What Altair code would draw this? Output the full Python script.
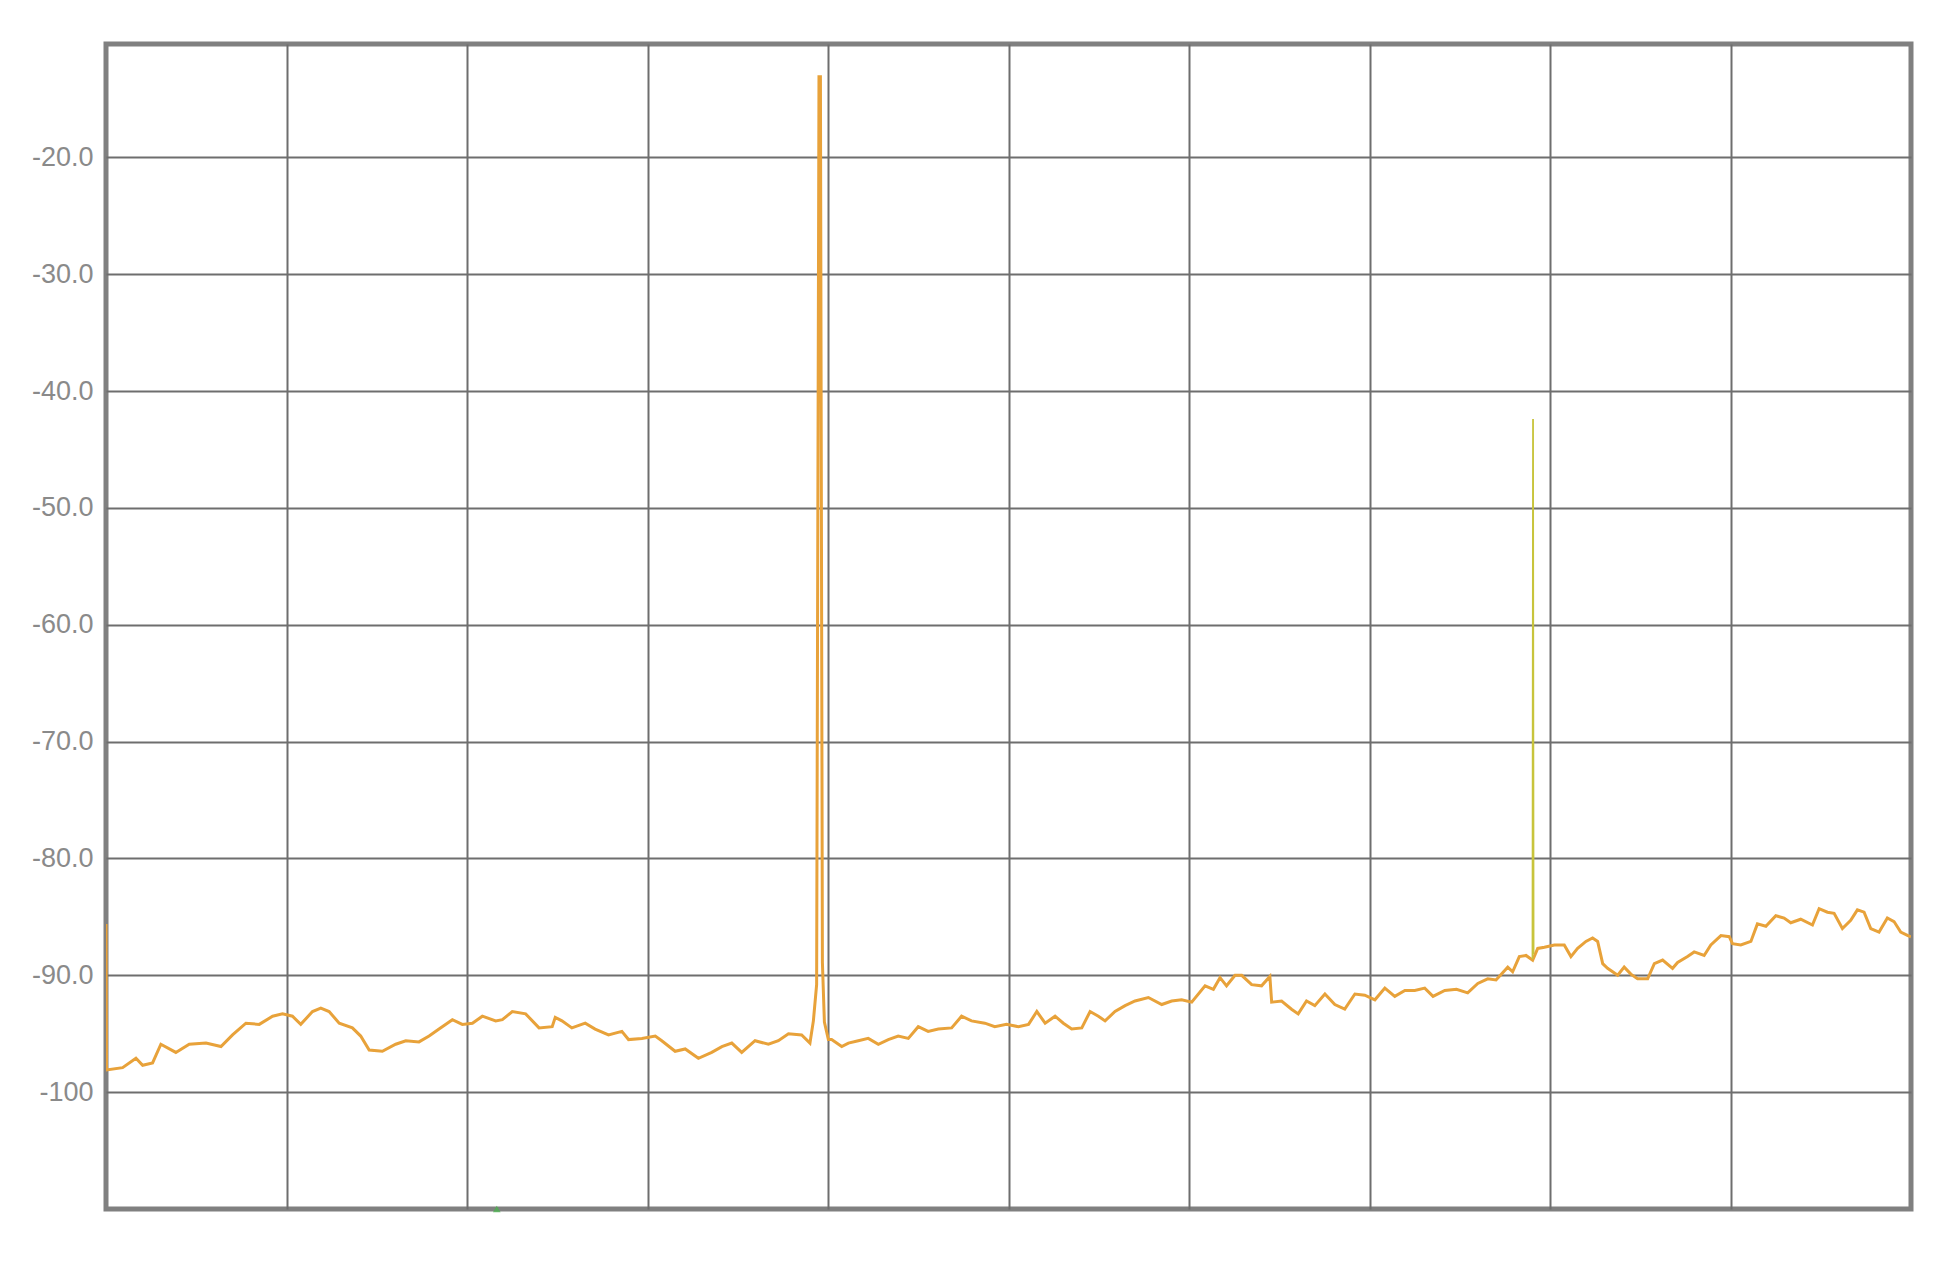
import altair as alt
import pandas as pd

# Trace (x in grid divisions 0..10, y in dBm)
trace_x = [
    0.000, 0.003, 0.092, 0.166, 0.203, 0.258, 0.304, 0.387, 0.461, 0.554, 0.637, 0.701, 0.775, 0.849,
    0.923, 0.978, 1.033, 1.079, 1.144, 1.190, 1.236, 1.292, 1.365, 1.411, 1.458, 1.531, 1.605, 1.661,
    1.734, 1.790, 1.845, 1.919, 1.974, 2.030, 2.085, 2.159, 2.196, 2.251, 2.325, 2.399, 2.472,
    2.489, 2.526, 2.581, 2.655, 2.710, 2.784, 2.858, 2.895, 2.969, 3.043, 3.079, 3.153, 3.209, 3.282,
    3.356, 3.412, 3.467, 3.522, 3.596, 3.670, 3.725, 3.781, 3.854, 3.900, 3.919, 3.937, 3.950, 3.958,
    3.969, 3.980, 4.002, 4.020, 4.076, 4.113, 4.168, 4.223, 4.279, 4.334, 4.389, 4.445, 4.500, 4.555,
    4.611, 4.685, 4.740, 4.795, 4.869, 4.924, 4.989,
    5.055, 5.111, 5.157, 5.203, 5.258, 5.304, 5.350, 5.406, 5.452, 5.498, 5.535, 5.590, 5.646, 5.701,
    5.775, 5.849, 5.904, 5.959, 6.015, 6.089, 6.135, 6.172, 6.208, 6.255, 6.292, 6.347, 6.402, 6.448,
    6.458, 6.513, 6.568, 6.605, 6.651, 6.697, 6.753, 6.808, 6.863, 6.919, 6.974, 7.030, 7.085, 7.140,
    7.196, 7.251, 7.306, 7.352, 7.417, 7.482,
    7.544, 7.600, 7.655, 7.701, 7.766, 7.793, 7.830, 7.867, 7.904, 7.932, 7.969, 8.024, 8.079, 8.116,
    8.153, 8.199, 8.236, 8.264, 8.292, 8.319, 8.375, 8.411, 8.448, 8.485, 8.541, 8.578, 8.624, 8.679,
    8.707, 8.762, 8.799, 8.854, 8.891, 8.947, 8.993, 9.011, 9.057, 9.113, 9.149, 9.196, 9.251, 9.297,
    9.334, 9.389, 9.454, 9.491, 9.537, 9.574, 9.620, 9.666, 9.703, 9.740, 9.777, 9.823, 9.869, 9.906,
    9.943, 9.983, 10.000,
]
trace_y = [
    -85.6, -98.1, -97.9, -97.1, -97.7, -97.5, -95.9, -96.6, -95.9, -95.8, -96.1, -95.1, -94.1, -94.2,
    -93.5, -93.3, -93.5, -94.2, -93.1, -92.8, -93.1, -94.1, -94.5, -95.2, -96.4, -96.5, -95.9, -95.6,
    -95.7, -95.2, -94.6, -93.8, -94.2, -94.1, -93.5, -93.9, -93.8, -93.1, -93.3, -94.5, -94.4,
    -93.6, -93.9, -94.5, -94.1, -94.6, -95.1, -94.8, -95.5, -95.4, -95.2, -95.6, -96.5, -96.3, -97.1,
    -96.6, -96.1, -95.8, -96.6, -95.6, -95.9, -95.6, -95.0, -95.1, -95.8, -93.9, -90.8, -13.1, -13.1,
    -88.9, -94.0, -95.5, -95.5, -96.1, -95.8, -95.6, -95.4, -95.9, -95.5, -95.2, -95.4, -94.4, -94.8,
    -94.6, -94.5, -93.5, -93.9, -94.1, -94.4, -94.2,
    -94.4, -94.2, -93.1, -94.1, -93.5, -94.1, -94.6, -94.5, -93.1, -93.5, -93.9, -93.1, -92.6, -92.2,
    -91.9, -92.5, -92.2, -92.1, -92.3, -90.9, -91.2, -90.2, -90.9, -90.0, -90.0, -90.8, -90.9, -90.1,
    -92.3, -92.2, -92.9, -93.3, -92.2, -92.6, -91.6, -92.5, -92.9, -91.6, -91.7, -92.1, -91.1, -91.8,
    -91.3, -91.3, -91.1, -91.8, -91.3, -91.2,
    -91.5, -90.7, -90.3, -90.4, -89.3, -89.7, -88.4, -88.3, -88.7, -87.7, -87.6, -87.4, -87.4, -88.4,
    -87.7, -87.1, -86.8, -87.1, -89.0, -89.4, -90.0, -89.3, -89.9, -90.3, -90.3, -89.0, -88.7, -89.4,
    -88.9, -88.4, -88.0, -88.3, -87.4, -86.6, -86.7, -87.3, -87.4, -87.1, -85.6, -85.8, -84.9, -85.1,
    -85.5, -85.2, -85.7, -84.3, -84.6, -84.7, -86.0, -85.3, -84.4, -84.6, -86.0, -86.3, -85.1, -85.4,
    -86.3, -86.6, -86.7,
]

# Second (yellow) trace spur
spur_x = [7.903, 7.906, 7.909]
spur_y = [-88.6, -42.4, -88.2]

# Marker on the bottom edge
marker_x = [2.165]
marker_y = [-110.0]

y_ticks = [-20, -30, -40, -50, -60, -70, -80, -90, -100]
x_grid = [1, 2, 3, 4, 5, 6, 7, 8, 9]

trace_df = pd.DataFrame({"x": trace_x, "y": trace_y})
spur_df = pd.DataFrame({"x": spur_x, "y": spur_y})
marker_df = pd.DataFrame({"x": marker_x, "y": marker_y})

x_scale = alt.Scale(domain=[0, 10], nice=False, zero=False)
y_scale = alt.Scale(domain=[-110, -10.3], nice=False, zero=False)

x_axis = alt.Axis(values=x_grid, labels=False, ticks=False, domain=False, title=None,
                  grid=True, gridColor="#6e6e6e", gridWidth=2, gridOpacity=1)
y_axis = alt.Axis(values=y_ticks, ticks=False, domain=False, title=None,
                  grid=True, gridColor="#6e6e6e", gridWidth=2, gridOpacity=1,
                  labelExpr="datum.value == -100 ? '-100' : '-' + format(abs(datum.value), '.1f')",
                  labelFont="Liberation Sans", labelFontSize=27, labelColor="#8a8a8a",
                  labelPadding=13, labelBaseline="middle")

base_trace = alt.Chart(trace_df).mark_line(
    color="#E8A23A", strokeWidth=3, interpolate="linear", clip=True
).encode(
    x=alt.X("x:Q", scale=x_scale, axis=x_axis),
    y=alt.Y("y:Q", scale=y_scale, axis=y_axis),
)

spur = alt.Chart(spur_df).mark_line(color="#C8C43C", strokeWidth=1.8).encode(
    x=alt.X("x:Q", scale=x_scale),
    y=alt.Y("y:Q", scale=y_scale),
)

marker = alt.Chart(marker_df).mark_point(
    shape="triangle-up", filled=True, color="#4CAF50", size=60, opacity=0.8
).encode(
    x=alt.X("x:Q", scale=x_scale),
    y=alt.Y("y:Q", scale=y_scale),
)

chart = alt.layer(base_trace, spur, marker).properties(
    width=1805,
    height=1165,
    autosize=alt.AutoSizeParams(type="none"),
    padding={"left": 98, "top": 36, "right": 30, "bottom": 30},
    background="white",
).configure_view(
    stroke="#808080", strokeWidth=5, fill="white"
)

chart.save("out.html", embed_options={"renderer": "svg", "actions": False})
